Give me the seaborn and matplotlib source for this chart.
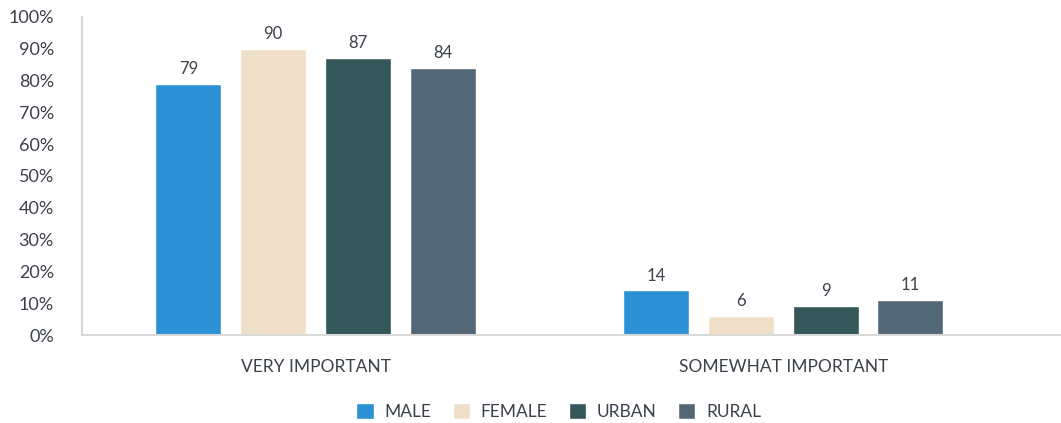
import pandas as pd
import matplotlib.pyplot as plt
import seaborn as sns

# data
categories = ['VERY IMPORTANT', 'SOMEWHAT IMPORTANT']
groups = ['MALE', 'FEMALE', 'URBAN', 'RURAL']
male = [79, 14]
female = [90, 6]
urban = [87, 9]
rural = [84, 11]
colors = ['#2C91D4', '#F0DFC8', '#345759', '#536877']

df = pd.DataFrame({
    'Category': categories * 4,
    'Group': [g for g in groups for _ in categories],
    'Value': male + female + urban + rural,
})

sns.set_style('white')
plt.rcParams['font.family'] = ['Lato', 'DejaVu Sans']
text_color = '#3B404B'

fig, ax = plt.subplots(figsize=(10.61, 4.23), dpi=100)
fig.subplots_adjust(left=0.077, right=1.0, top=0.96, bottom=0.208)

sns.barplot(data=df, x='Category', y='Value', hue='Group', order=categories,
            hue_order=groups, palette=colors, width=0.725, gap=0.22,
            saturation=1, ax=ax, legend=True)

for cont in ax.containers:
    ax.bar_label(cont, fmt='%d', padding=5, fontsize=12, color=text_color)

ax.set_ylim(0, 100)
ax.set_xlim(-0.5, 1.594)
ax.set_yticks(range(0, 101, 10))
ax.set_yticklabels([f'{v}%' for v in range(0, 101, 10)])
ax.set_xlabel('')
ax.set_ylabel('')
ax.tick_params(axis='y', labelsize=13, colors=text_color, length=0, pad=20)
ax.tick_params(axis='x', labelsize=12.5, colors=text_color, length=0, pad=17)

for side in ['top', 'right']:
    ax.spines[side].set_visible(False)
for side in ['left', 'bottom']:
    ax.spines[side].set_color('#D9D9D9')
    ax.spines[side].set_linewidth(1.5)

ax.legend(loc='upper center', bbox_to_anchor=(0.487, -0.165), ncol=4,
          frameon=False, fontsize=12.5, handlelength=1.0, handleheight=1.0,
          columnspacing=1.25, handletextpad=0.6, labelcolor=text_color)

plt.savefig('out.png', dpi=100)
